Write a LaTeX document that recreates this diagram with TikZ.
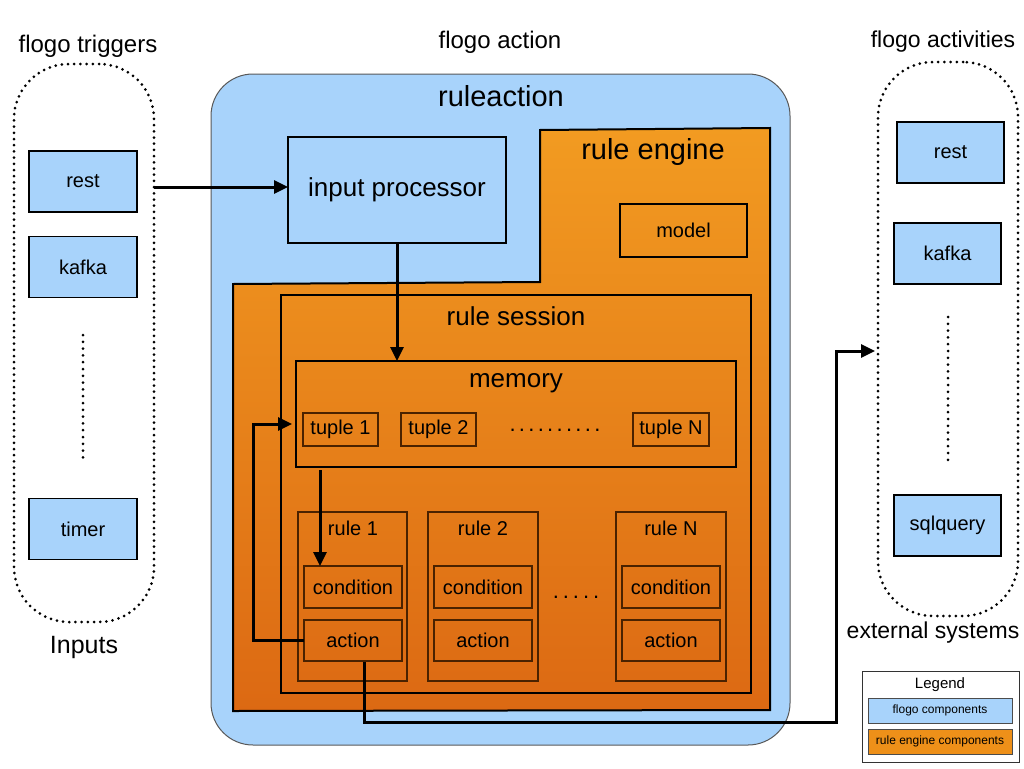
\documentclass[tikz,border=0pt]{standalone}
\usepackage{fontspec}
\setmainfont{Liberation Sans}
\usetikzlibrary{arrows.meta,calc}
\definecolor{flogoblue}{HTML}{A8D3FB}
\definecolor{engtop}{HTML}{F29B21}
\definecolor{engbot}{HTML}{DC6913}
\definecolor{engmid}{HTML}{EE9019}
\definecolor{thinb}{HTML}{4A2200}
\newcommand{\fsz}[1]{\fontsize{#1}{#1}\selectfont}
\tikzset{
  bluebox/.style={draw=black, line width=1.6pt, fill=flogoblue, inner sep=0pt, outer sep=0pt, font=\fsz{20}},
  engbox/.style={draw=thinb, line width=1.2pt, inner sep=0pt, outer sep=0pt, font=\fsz{20}},
  framebox/.style={draw=black, line width=2pt, inner sep=0pt, outer sep=0pt},
  dotgroup/.style={draw=black, line width=3pt, dash pattern=on 0pt off 6.2pt, line cap=round, rounded corners=55pt, inner sep=0pt, outer sep=0pt},
  dotline/.style={draw=black, line width=3pt, dash pattern=on 0pt off 6.8pt, line cap=round},
  lbl/.style={inner sep=0pt, font=\fsz{#1}},
  arr/.style={draw=black, line width=3pt, -{Triangle[length=14pt,width=13pt]}}
}
\begin{document}
\begin{tikzpicture}[x=1pt,y=-1pt]
\useasboundingbox (0,0) rectangle (1024,768);

% ---------- left group: flogo triggers ----------
\node[lbl=24] (ttitle) at (88,46) {flogo triggers};
\node[dotgroup, minimum width=140pt, minimum height=558pt] (trig) at (84,343) {};
\node[bluebox, minimum width=108pt, minimum height=61pt] (trest) at (83,181.5) {rest};
\node[bluebox, minimum width=108pt, minimum height=61pt] (tkafka) at (83,267) {kafka};
\node[bluebox, minimum width=108pt, minimum height=61pt] (ttimer) at (83,529) {timer};
\coordinate (tdA) at (83,335);
\coordinate (tdB) at (83,463);
\draw[dotline] (tdA) -- (tdB);
\node[lbl=25] (tinputs) at (84,647) {Inputs};

% ---------- right group: flogo activities ----------
\node[lbl=23] (atitle) at (943,42) {flogo activities};
\node[dotgroup, minimum width=140pt, minimum height=554pt] (acts) at (948,339) {};
\node[bluebox, minimum width=107pt, minimum height=61pt] (arest) at (950.5,152.5) {rest};
\node[bluebox, minimum width=107pt, minimum height=61pt] (akafka) at (947.5,253.5) {kafka};
\node[bluebox, minimum width=107pt, minimum height=61pt] (asql) at (947.5,525.5) {sqlquery};
\coordinate (adA) at (948,317);
\coordinate (adB) at (948,463);
\draw[dotline] (adA) -- (adB);
\node[lbl=23] (aext) at (933,633) {external systems};

% ---------- flogo action ----------
\node[lbl=24] (fatitle) at (500,42) {flogo action};
\node[draw=black!65, line width=1pt, fill=flogoblue, rounded corners=42pt, minimum width=579pt, minimum height=671pt, inner sep=0pt] (ra) at (500.5,409.5) {};
\node[lbl=29] (ratitle) at (501,96) {ruleaction};

% rule engine polygon
\path[draw=black, line width=2pt, top color=engtop, bottom color=engbot]
  (540,130) -- (770,128) -- (770,710) -- (233,711) -- (233,284) -- (540,282) -- cycle;
\node[lbl=29] (retitle) at (653,152) {rule engine};
\node[engbox, draw=black, line width=1.6pt, minimum width=127pt, minimum height=53pt] (model) at (683.5,230.5) {model};

\node[bluebox, minimum width=218pt, minimum height=106pt, font=\fsz{26}] (inproc) at (397,190) {input processor};

% rule session
\node[framebox, minimum width=470pt, minimum height=398pt] (rs) at (516,494) {};
\node[lbl=26] (rstitle) at (516,316) {rule session};

% memory
\node[framebox, minimum width=440pt, minimum height=106pt] (mem) at (516,414) {};
\node[lbl=26] (memtitle) at (516,383) {memory};
\node[engbox, minimum width=75pt, minimum height=33pt] (tup1) at (340.5,429.5) {tuple 1};
\node[engbox, minimum width=75pt, minimum height=33pt] (tup2) at (438.5,429.5) {tuple 2};
\node[engbox, minimum width=76pt, minimum height=33pt] (tupN) at (671,429.5) {tuple N};
\node[lbl=22] (tdots) at (555,430) {\addfontfeatures{LetterSpace=15}..........};

% rules
\node[engbox, minimum width=109pt, minimum height=169pt] (rule1) at (352.5,596.5) {};
\node[engbox, minimum width=110pt, minimum height=169pt] (rule2) at (483,596.5) {};
\node[engbox, minimum width=110pt, minimum height=169pt] (ruleN) at (671,596.5) {};
\node[lbl=20] (r1t) at (353,528) {rule 1};
\node[lbl=20] (r2t) at (483,528) {rule 2};
\node[lbl=20] (rNt) at (671,528) {rule N};
\node[engbox, minimum width=98pt, minimum height=42pt] (cond1) at (353,587) {condition};
\node[engbox, minimum width=98pt, minimum height=41pt] (act1) at (353,640.5) {action};
\node[engbox, minimum width=98pt, minimum height=42pt] (cond2) at (483,587) {condition};
\node[engbox, minimum width=98pt, minimum height=41pt] (act2) at (483,640.5) {action};
\node[engbox, minimum width=98pt, minimum height=42pt] (condN) at (671,587) {condition};
\node[engbox, minimum width=98pt, minimum height=41pt] (actN) at (671,640.5) {action};
\node[lbl=22] (rdots) at (576,597) {\addfontfeatures{LetterSpace=18}.....};

% ---------- legend ----------
\node[draw=black!80, line width=1pt, fill=white, minimum width=157pt, minimum height=91pt, inner sep=0pt] (leg) at (940.5,716.5) {};
\node[lbl=15] (legt) at (940,685) {Legend};
\node[draw=black!70, line width=1pt, fill=flogoblue, minimum width=144pt, minimum height=25pt, inner sep=0pt, font=\fsz{12}] (legb) at (940,710.5) {flogo components};
\node[draw=black!70, line width=1pt, fill=engmid, minimum width=144pt, minimum height=25pt, inner sep=0pt, font=\fsz{12}] (lego) at (940,741.5) {rule engine components};

% ---------- connectors ----------
\coordinate (inS) at (trig.east |- 0,187);
\draw[arr] (inS) -- (inS -| inproc.west);
\draw[arr] (inproc.south) -- (inproc.south |- mem.north);
\coordinate (mS) at (320,470);
\draw[arr] (mS) -- (mS |- cond1.north);
\coordinate (fbA) at (253,424);
\coordinate (fbB) at (292,424);
\draw[arr] (act1.west) -| (fbA) -- (fbB);
\coordinate (o1) at (364,662);
\coordinate (o2) at (836,722);
\coordinate (o3) at (875,351);
\draw[arr] (o1) |- (o2) |- (o3);
\end{tikzpicture}
\end{document}
